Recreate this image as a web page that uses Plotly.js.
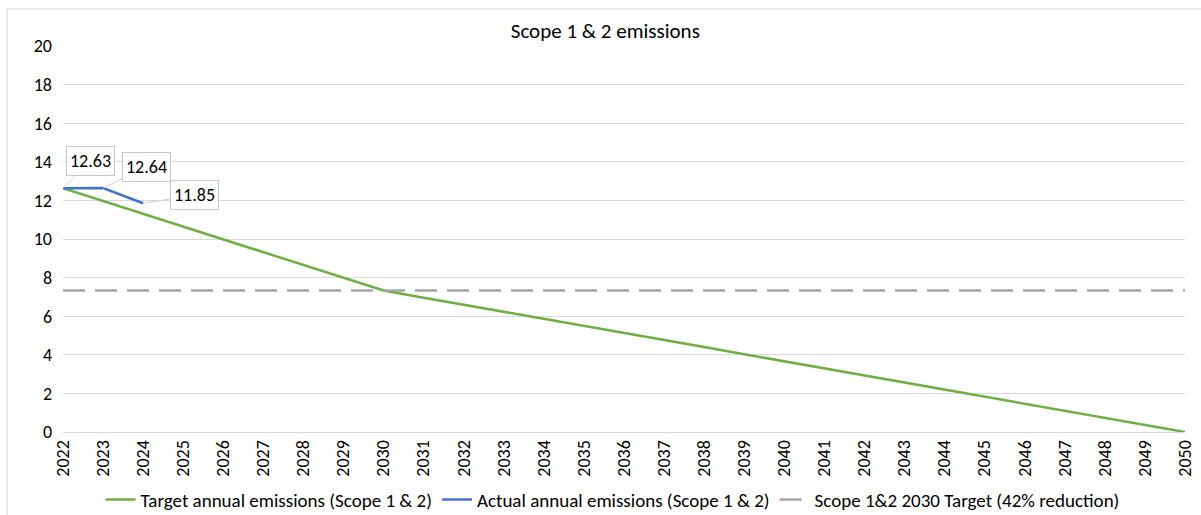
<!DOCTYPE html>
<html><head><meta charset="utf-8">
<script src="https://cdn.plot.ly/plotly-3.0.1.min.js"></script>
<style>html,body{margin:0;padding:0;background:#fff}#c{width:1201px;height:515px}</style>
</head><body><div id="c"></div>
<script>
const years = ["2022","2023","2024","2025","2026","2027","2028","2029","2030","2031","2032","2033","2034","2035","2036","2037","2038","2039","2040","2041","2042","2043","2044","2045","2046","2047","2048","2049","2050"];
const targetEmissions = [12.63,11.97,11.30,10.64,9.98,9.31,8.65,7.99,7.33,6.96,6.60,6.23,5.86,5.50,5.13,4.76,4.40,4.03,3.66,3.30,2.93,2.56,2.20,1.83,1.47,1.10,0.73,0.37,0];
const actualYears = ["2022","2023","2024"];
const actualEmissions = [12.63,12.64,11.85];
const target2030 = 7.33;
const targetLineYears = ["2022","2050"];
const actualLabels = ["12.63","12.64","11.85"];
const labelOffsets = [[27,-27],[43,-21],[51,-8]];

const W = 1201, H = 515, ML = 63, MR = 16, MT = 46, MB = 83;
const pw = W - ML - MR, ph = H - MT - MB;
const px = v => (v - ML) / pw;
const py = v => (H - MB - v) / ph;

const font = "Carlito, Lato, 'Liberation Sans', sans-serif";
const traces = [
  {x: years, y: targetEmissions, type:'scatter', mode:'lines', name:'Target annual emissions (Scope 1 & 2)', line:{color:'#70ad47', width:2.5}},
  {x: actualYears, y: actualEmissions, type:'scatter', mode:'lines', name:'Actual annual emissions (Scope 1 & 2)', line:{color:'#4472c4', width:2.5}},
  {x: targetLineYears, y: targetLineYears.map(()=>target2030), type:'scatter', mode:'lines', name:'Scope 1&2 2030 Target (42% reduction)', line:{color:'#a5a5a5', width:2.5, dash:'22px,10px'}}
];
const annotations = actualYears.map((yr,i)=>({
  x: years.indexOf(yr), y: actualEmissions[i], xref:'x', yref:'y', text: actualLabels[i],
  showarrow:true, arrowhead:0, arrowwidth:1, arrowcolor:'#d0d0d0', ax:labelOffsets[i][0], ay:labelOffsets[i][1],
  bgcolor:'#fff', bordercolor:'#c8c8c8', borderwidth:1, borderpad:3,
  font:{family:font, size:18, color:'#000'}
}));
const shapes = [
  {type:'line', xref:'paper', yref:'paper', x0:px(7), x1:px(W), y0:py(9), y1:py(9), line:{color:'#d9d9d9', width:1}, layer:'below'},
  {type:'line', xref:'paper', yref:'paper', x0:px(7), x1:px(7), y0:py(9), y1:py(H), line:{color:'#d9d9d9', width:1}, layer:'below'}
];
const layout = {
  width:W, height:H,
  margin:{l:ML, r:MR, t:MT, b:MB},
  paper_bgcolor:'#fff', plot_bgcolor:'#fff',
  title:{text:'Scope 1 & 2 emissions', x:0.504, xref:'container', y:0.94, yref:'container', yanchor:'middle', font:{family:font, size:21, color:'#000'}},
  xaxis:{type:'category', range:[0,28], automargin:false, tickangle:-90, showgrid:false, showline:true, linecolor:'#d9d9d9', ticks:'', tickfont:{family:font, size:18, color:'#000'}, zeroline:false},
  yaxis:{range:[0,20], automargin:false, dtick:2, tick0:0, gridcolor:'#d9d9d9', showline:false, zeroline:false, ticks:'', ticklabelstandoff:10, tickfont:{family:font, size:18, color:'#000'}},
  showlegend:true,
  legend:{orientation:'h', x:0.51, xanchor:'center', xref:'container', y:0.03, yref:'container', yanchor:'middle', font:{family:font, size:19, color:'#000'}, tracegroupgap:0, itemwidth:30},
  annotations: annotations,
  shapes: shapes
};
Plotly.newPlot('c', traces, layout, {displayModeBar:false, staticPlot:true});
</script></body></html>
